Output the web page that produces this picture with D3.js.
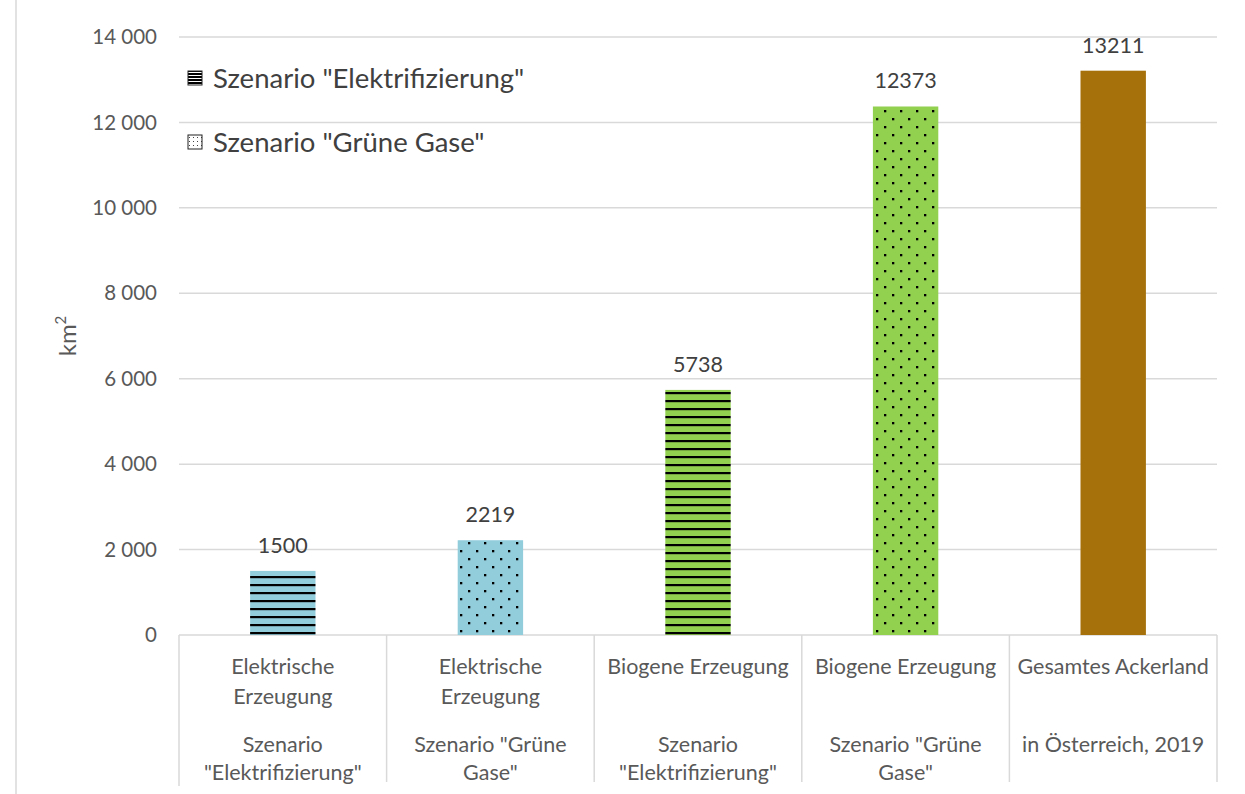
<!DOCTYPE html>
<html><head><meta charset="utf-8">
<script src="https://cdn.jsdelivr.net/npm/d3@7"></script>
<style>body{margin:0;background:#fff;} svg{display:block;}</style>
</head><body>
<svg id="c" width="1245" height="794"></svg>
<script>
const categories = ["c1","c2","c3","c4","c5"];
const labelRow1 = [["Elektrische","Erzeugung"],["Elektrische","Erzeugung"],["Biogene Erzeugung"],["Biogene Erzeugung"],["Gesamtes Ackerland"]];
const labelRow2 = [["Szenario","\"Elektrifizierung\""],["Szenario \"Grüne","Gase\""],["Szenario","\"Elektrifizierung\""],["Szenario \"Grüne","Gase\""],["in Österreich, 2019"]];
const values = [1500, 2219, 5738, 12373, 13211];
const colors = ["#92CDDC", "#92CDDC", "#92D050", "#92D050", "#A6700A"];
const patterns = ["stripes", "dots", "stripes", "dots", "none"];
const yTicks = [0, 2000, 4000, 6000, 8000, 10000, 12000, 14000];
const legendItems = [{label:"Szenario \"Elektrifizierung\"", pattern:"stripes"},{label:"Szenario \"Grüne Gase\"", pattern:"dots"}];

const svg = d3.select("#c");
const font = "Lato, 'Open Sans', sans-serif";
const textCol = "#595959";
const pLeft = 179, pRight = 1217, pTop = 37, pBottom = 635;

const x = d3.scaleBand().domain(categories).range([pLeft, pRight]).padding(0);
const y = d3.scaleLinear().domain([0, 14000]).range([pBottom, pTop]);
const barW = x.bandwidth() * 0.315;

const defs = svg.append("defs");
colors.forEach((c, i) => {
  if (patterns[i] === "stripes") {
    const p = defs.append("pattern").attr("id", "pat" + i).attr("patternUnits", "userSpaceOnUse")
      .attr("width", 8).attr("height", 8).attr("y", pBottom);
    p.append("rect").attr("width", 8).attr("height", 8).attr("fill", c);
    p.append("rect").attr("y", 5).attr("width", 8).attr("height", 2.2).attr("fill", "#000");
  } else if (patterns[i] === "dots") {
    const p = defs.append("pattern").attr("id", "pat" + i).attr("patternUnits", "userSpaceOnUse")
      .attr("width", 16).attr("height", 16).attr("y", pBottom).attr("x", 0);
    p.append("rect").attr("width", 16).attr("height", 16).attr("fill", c);
    p.append("rect").attr("x", 4).attr("y", 3).attr("width", 2.3).attr("height", 2.3).attr("fill", "#000");
    p.append("rect").attr("x", 12).attr("y", 11).attr("width", 2.3).attr("height", 2.3).attr("fill", "#000");
  }
});
// legend patterns (white background)
const lp1 = defs.append("pattern").attr("id","legS").attr("patternUnits","userSpaceOnUse").attr("width",14).attr("height",3);
lp1.append("rect").attr("width",14).attr("height",3).attr("fill","#fff");
lp1.append("rect").attr("y",1).attr("width",14).attr("height",2).attr("fill","#000");
const lp2 = defs.append("pattern").attr("id","legD").attr("patternUnits","userSpaceOnUse").attr("width",4).attr("height",4);
lp2.append("rect").attr("width",4).attr("height",4).attr("fill","#fff");
lp2.append("rect").attr("x",1).attr("y",1).attr("width",1).attr("height",1).attr("fill","#444");

// chart left border
svg.append("line").attr("x1",16).attr("x2",16).attr("y1",0).attr("y2",794).attr("stroke","#d9d9d9").attr("stroke-width",1.5);

// gridlines
svg.append("g").selectAll("line").data(yTicks).join("line")
  .attr("x1", pLeft).attr("x2", pRight).attr("y1", d => y(d)).attr("y2", d => y(d))
  .attr("stroke", "#d9d9d9").attr("stroke-width", 1.5);

// y axis labels
const fmt = d3.formatLocale({decimal:",", thousands:"\u00a0", grouping:[3], currency:["","€"]}).format(",d");
svg.append("g").selectAll("text").data(yTicks).join("text")
  .attr("x", 157).attr("y", d => y(d)).attr("dy", "0.35em").attr("text-anchor", "end")
  .attr("font-family", font).attr("font-size", 20.5).attr("fill", textCol)
  .text(d => fmt(d));

// y title
svg.append("text").attr("transform", "translate(76,336) rotate(-90)").attr("text-anchor","middle")
  .attr("font-family", font).attr("font-size", 24).attr("fill", textCol)
  .html('km<tspan font-size="15" dy="-10">2</tspan>');

// category axis lines
const bounds = categories.map(c => x(c)).concat([pRight]);
svg.append("g").selectAll("line").data(bounds).join("line")
  .attr("x1", d => d).attr("x2", d => d).attr("y1", pBottom).attr("y2", (d,i) => i === 0 ? 786 : 782)
  .attr("stroke", "#d9d9d9").attr("stroke-width", 1.5);

// bars
svg.append("g").selectAll("rect").data(values).join("rect")
  .attr("x", (d,i) => x(categories[i]) + x.bandwidth()/2 - barW/2)
  .attr("width", barW)
  .attr("y", d => y(d)).attr("height", d => y(0) - y(d))
  .attr("fill", (d,i) => patterns[i] === "none" ? colors[i] : `url(#pat${i})`);

// data labels
svg.append("g").selectAll("text").data(values).join("text")
  .attr("x", (d,i) => x(categories[i]) + x.bandwidth()/2)
  .attr("y", d => y(d) - 18).attr("text-anchor", "middle")
  .attr("font-family", font).attr("font-size", 21.5).attr("fill", "#404040")
  .text(d => d);

// category labels
const cx = i => x(categories[i]) + x.bandwidth()/2;
labelRow1.forEach((lines, i) => {
  lines.forEach((t, j) => {
    svg.append("text").attr("x", cx(i)).attr("y", 674 + j*30).attr("text-anchor","middle")
      .attr("font-family", font).attr("font-size", 21.5).attr("fill", textCol).text(t);
  });
});
labelRow2.forEach((lines, i) => {
  lines.forEach((t, j) => {
    svg.append("text").attr("x", cx(i)).attr("y", 752 + j*28).attr("text-anchor","middle")
      .attr("font-family", font).attr("font-size", 21.5).attr("fill", textCol).text(t);
  });
});

// legend
legendItems.forEach((it, i) => {
  const ly = 78 + i*64;
  svg.append("rect").attr("x", 188).attr("y", ly - 7).attr("width", 14).attr("height", 14)
    .attr("fill", it.pattern === "stripes" ? "url(#legS)" : "url(#legD)").attr("stroke", "#222").attr("stroke-width", 1);
  svg.append("text").attr("x", 213).attr("y", ly).attr("dy","0.35em")
    .attr("font-family", font).attr("font-size", 27.5).attr("fill", "#404040").text(it.label);
});
</script>
</body></html>
